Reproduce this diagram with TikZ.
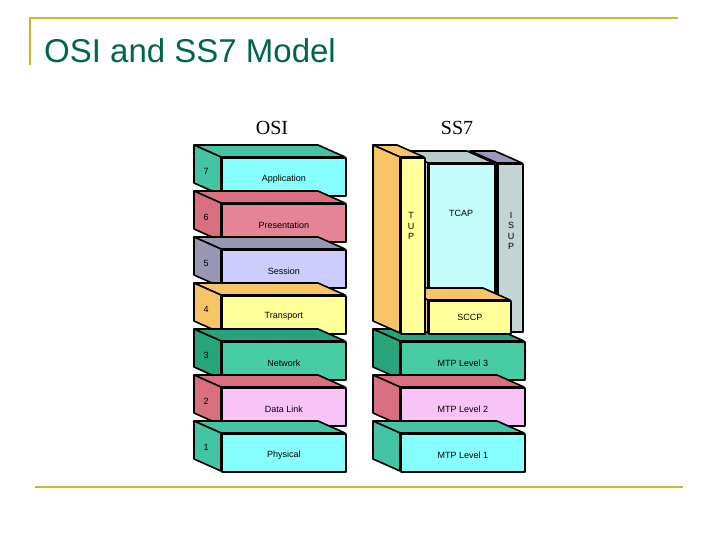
\documentclass[tikz,border=0pt]{standalone}
\usepackage{fontspec}
\setmainfont{Liberation Sans}
\newfontfamily\serifr{Liberation Serif}
\begin{document}
\begin{tikzpicture}[x=1pt,y=-1pt,
  edge/.style={draw=black,line width=1.6pt,line join=round},
  lbl/.style={font=\fontsize{9}{10}\selectfont,inner sep=0pt},
  num/.style={font=\fontsize{9}{10}\selectfont,inner sep=0pt}]
\definecolor{gold}{HTML}{D4B52A}
\definecolor{ttl}{HTML}{00664A}
\definecolor{cyanF}{HTML}{88FFFF}\definecolor{tealS}{HTML}{44C4A4}
\definecolor{pinkF}{HTML}{E48494}\definecolor{pinkS}{HTML}{D87080}
\definecolor{lavF}{HTML}{CCCCFF}\definecolor{lavS}{HTML}{9898B4}
\definecolor{yelF}{HTML}{FFFF99}\definecolor{orS}{HTML}{F8C468}
\definecolor{netF}{HTML}{48CCA4}\definecolor{netS}{HTML}{28A47C}
\definecolor{dlF}{HTML}{F8C4F8}
\definecolor{tcF}{HTML}{C4FCFC}\definecolor{grS}{HTML}{B8CCCC}
\definecolor{isF}{HTML}{C4D4D4}\definecolor{isS}{HTML}{9C98BC}
\newcommand\blockbox[7]{%
  \path[edge,fill=#7] (#2,#3) -- ++(-27,-12) -- ++(#4,0) -- ++(27,12) -- cycle;
  \path[edge,fill=#7] (#2,#3) -- ++(-27,-12) -- ++(0,#5) -- ++(27,12) -- cycle;
  \node[edge,fill=#6,minimum width=#4,minimum height=#5,inner sep=0pt,anchor=north west] (#1) at (#2,#3) {};}
\useasboundingbox (0,0) rectangle (720,540);
\draw[gold,line width=2pt] (30,65) -- (30,18) -- (678,18);
\draw[gold,line width=2pt] (35,487) -- (683,487);
\node[anchor=west,text=ttl,font=\fontsize{33}{36}\selectfont,inner sep=0pt] (title) at (44,51) {OSI and SS7 Model};
\node[font=\serifr\fontsize{20}{22}\selectfont,inner sep=0pt] (osi) at (272,128) {OSI};
\node[font=\serifr\fontsize{20}{22}\selectfont,inner sep=0pt] (ss7) at (457,128) {SS7};
\blockbox{o7}{221}{157}{124}{38}{cyanF}{tealS}
\blockbox{o6}{221}{203}{124}{38}{pinkF}{pinkS}
\blockbox{o5}{221}{249}{124}{38}{lavF}{lavS}
\blockbox{o4}{221}{295}{124}{38}{yelF}{orS}
\blockbox{o3}{221}{341}{124}{38}{netF}{netS}
\blockbox{o2}{221}{387}{124}{38}{dlF}{pinkS}
\blockbox{o1}{221}{433}{124}{38}{cyanF}{tealS}
\foreach \n/\t in {o7/Application,o6/Presentation,o5/Session,o4/Transport,o3/Network,o2/Data Link,o1/Physical}{
  \node[lbl] at ([yshift=-2pt]\n.center) {\t};}
\foreach \n/\y in {7/157,6/203,5/249,4/295,3/341,2/387,1/433}{
  \node[num] (num\n) at (206,\y+14) {\n};}
\blockbox{m3}{400}{341}{124}{38}{netF}{netS}
\blockbox{m2}{400}{387}{124}{38}{dlF}{pinkS}
\blockbox{m1}{400}{433}{124}{38}{cyanF}{tealS}
\node[lbl] at ([yshift=-2pt]m3.center) {MTP Level 3};
\node[lbl] at ([yshift=-2pt]m2.center) {MTP Level 2};
\node[lbl] at ([yshift=-2pt]m1.center) {MTP Level 1};
\blockbox{isup}{497}{163}{25}{168}{isF}{isS}
\blockbox{tcap}{428}{163}{66}{137}{tcF}{grS}
\blockbox{sccp}{428}{300}{82}{33}{yelF}{orS}
\blockbox{tup}{400}{157}{24}{176}{yelF}{orS}
\node[lbl,align=center,font=\fontsize{9}{10.5}\selectfont] (tuptxt) at (411,226) {T\\U\\P};
\node[lbl,align=center,font=\fontsize{9}{10.5}\selectfont] (isuptxt) at (511,231) {I\\S\\U\\P};
\node[lbl] (tcaptxt) at (461,213) {TCAP};
\node[lbl] at (sccp.center) {SCCP};
\end{tikzpicture}
\end{document}
